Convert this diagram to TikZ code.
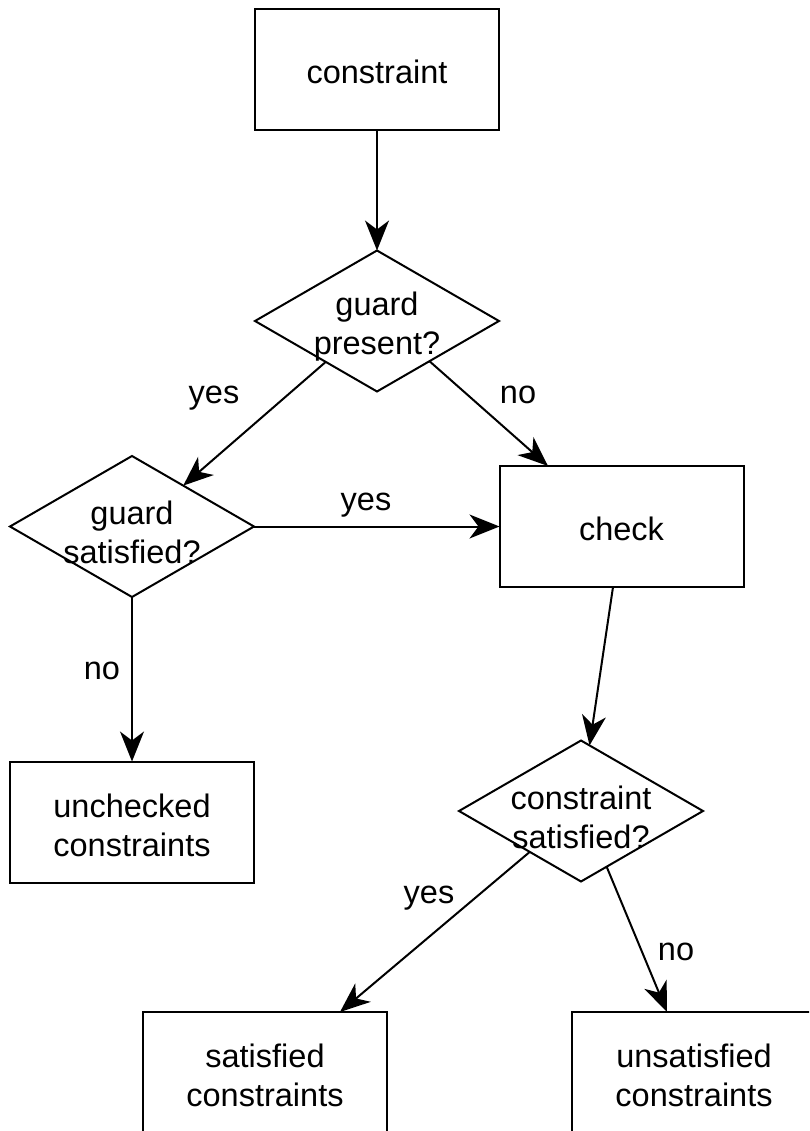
\documentclass[tikz,border=0pt]{standalone}
\usepackage{fontspec}
\setmainfont{Liberation Sans}
\usetikzlibrary{shapes.geometric,arrows.meta,calc}
\begin{document}
\begin{tikzpicture}[x=1pt,y=-1pt,
  box/.style={draw,line width=2pt,minimum width=244pt,minimum height=121pt,inner sep=0pt,outer sep=0pt},
  dia/.style={draw,diamond,line width=2pt,minimum width=244pt,minimum height=141pt,inner sep=0pt,outer sep=0pt},
  txt/.style={align=center,font=\fontsize{32.5}{39}\selectfont,inner sep=0pt},
  lbl/.style={font=\fontsize{32.5}{39}\selectfont,inner sep=0pt,anchor=base},
  arr/.style={line width=2pt,-{Stealth[length=30pt,width=24pt,inset=9pt]}}]
\useasboundingbox (0,0) rectangle (809,1131);
\clip (0,0) rectangle (809,1131);
\node[box] (start) at (377,69.5) {};
\node[txt] (startt) at (377,72) {constraint};
\node[dia] (d1) at (377,321) {};
\node[txt] (d1t) at (377,327) {guard\\present?};
\node[dia] (d2) at (132,526.5) {};
\node[txt] (d2t) at (132,532) {guard\\satisfied?};
\node[box] (chk) at (621.5,526.5) {};
\node[txt] (chkt) at (621.5,529) {check};
\node[dia] (d3) at (581,811) {};
\node[txt] (d3t) at (581,817) {constraint\\satisfied?};
\node[box] (unc) at (132,822) {};
\node[txt] (unct) at (132,825) {unchecked\\constraints};
\node[box] (sat) at (265,1072.5) {};
\node[txt] (satt) at (265,1075) {satisfied\\constraints};
\node[box] (uns) at (694,1072.5) {};
\node[txt] (unst) at (694,1075) {unsatisfied\\constraints};

\draw[arr] (start.south) -- (d1.north);
\draw[arr] ($(d1.west)!0.58!(d1.south)$) -- ($(d2.north)!0.42!(d2.east)$);
\draw[arr] ($(d1.east)!0.57!(d1.south)$) -- ([xshift=-73.5pt]chk.north);
\draw[arr] (d2.east) -- (chk.west);
\draw[arr] (d2.south) -- (unc.north);
\draw[arr] ([xshift=-8.5pt]chk.south) -- ($(d3.north)!0.07!(d3.east)$);
\draw[arr] ($(d3.west)!0.58!(d3.south)$) -- ([xshift=75pt]sat.north);
\draw[arr] ($(d3.south)!0.21!(d3.east)$) -- ([xshift=-27pt]uns.north);

\node[lbl] (l1) at (214,403) {yes};
\node[lbl] (l2) at (518,403) {no};
\node[lbl] (l3) at (366,510) {yes};
\node[lbl] (l4) at (102,679) {no};
\node[lbl] (l5) at (429,903) {yes};
\node[lbl] (l6) at (676,960) {no};
\end{tikzpicture}
\end{document}
